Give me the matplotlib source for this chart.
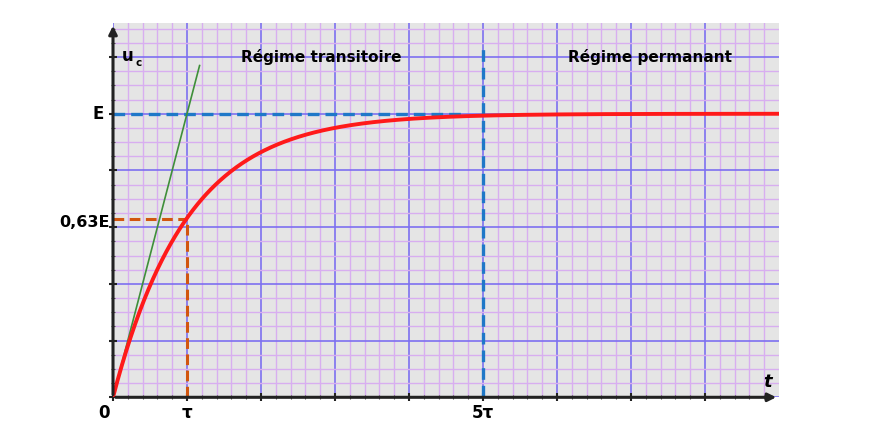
import numpy as np
import matplotlib
matplotlib.use("Agg")
import matplotlib.pyplot as plt
from matplotlib.ticker import FixedLocator

# data (x in units of tau, y in grid units, E = 5)
E = 5.0
tau = 1.0
t_max = 9.0
y_top = 6.6
t = np.linspace(0, t_max, 600)
uc = E * (1 - np.exp(-t / tau))
tangent_t = [0, 1.17]
tangent_u = [0, 1.17 * E / tau]
frac = 0.63
regions = ["Régime transitoire", "Régime permanant"]
region_x = [2.81, 7.25]

W, H = 884, 426
fig = plt.figure(figsize=(W / 100, H / 100), dpi=100)
ax = fig.add_axes([113 / W, (H - 397.3) / H, (779 - 113) / W, (397.3 - 23) / H])
ax.set_xlim(0, t_max)
ax.set_ylim(0, y_top)
ax.set_facecolor("#e5e5e5")
for s in ax.spines.values():
    s.set_visible(False)

ax.xaxis.set_major_locator(FixedLocator(np.arange(0, 9, 1.0)))
ax.xaxis.set_minor_locator(FixedLocator(np.arange(0, 8.9, 0.2)))
ax.yaxis.set_major_locator(FixedLocator(np.arange(0, 7, 1.0)))
ax.yaxis.set_minor_locator(FixedLocator(np.arange(0, 6.55, 0.25)))
ax.grid(which="minor", color="#d8aef0", lw=1.0, zorder=0)
ax.grid(which="major", color="#7d70f0", lw=1.2, zorder=0.5)
ax.set_axisbelow(True)
ax.tick_params(which="both", labelbottom=False, labelleft=False)
ax.tick_params(which="major", direction="inout", length=6, width=1.5, color="#222222")
ax.tick_params(which="minor", direction="inout", length=2.5, width=0.8, color="#555555")

# axes with arrows
ax.annotate("", xy=(1.0, 0), xytext=(0, 0), xycoords="axes fraction",
            arrowprops=dict(arrowstyle="-|>", color="#222222", lw=2.2, mutation_scale=12), zorder=6)
ax.annotate("", xy=(0, 1.0), xytext=(0, 0), xycoords="axes fraction",
            arrowprops=dict(arrowstyle="-|>", color="#222222", lw=2.2, mutation_scale=12), zorder=6)

# dashed guide lines
ax.plot([0, 4.75], [E, E], color="#1f78c8", lw=2.4, ls=(0, (3.5, 1.8)), zorder=3)
ax.plot([5 * tau, 5 * tau], [0, 6.21], color="#1f78c8", lw=2.4, ls=(0, (3.5, 1.8)), zorder=3)
ax.plot([0, tau], [frac * E, frac * E], color="#d2560f", lw=2.2, ls=(0, (3.5, 1.8)), zorder=3)
ax.plot([tau, tau], [0, frac * E], color="#d2560f", lw=2.2, ls=(0, (3.5, 1.8)), zorder=3)

# tangent and curve
ax.plot(tangent_t, tangent_u, color="#3f8f3a", lw=1.2, zorder=4)
ax.plot(t, uc, color="#ff1a1a", lw=2.8, zorder=5, solid_capstyle="butt")

font = dict(fontfamily="DejaVu Sans", fontweight="bold", color="black")
for txt, xr in zip(regions, region_x):
    ax.text(xr, 6.0, txt, ha="center", va="center", fontsize=11, **font)
ax.text(0.12, 6.02, "u", ha="left", va="center", fontsize=12, **font)
ax.text(0.3, 5.9, "c", ha="left", va="center", fontsize=7.5, **font)

ax.text(-0.12, E, "E", ha="right", va="center", fontsize=12, **font, clip_on=False)
ax.text(-0.04, frac * E - 0.06, "0,63E", ha="right", va="center", fontsize=11.5, **font, clip_on=False)
ax.text(-0.12, -0.12, "0", ha="center", va="top", fontsize=12, **font, clip_on=False)
ax.text(tau, -0.12, "τ", ha="center", va="top", fontsize=12, **font, clip_on=False)
ax.text(5 * tau, -0.12, "5τ", ha="center", va="top", fontsize=12, **font, clip_on=False)
ax.text(8.85, 0.27, "t", ha="center", va="center", fontsize=13, fontstyle="italic",
        fontfamily="DejaVu Sans", fontweight="bold", color="black")

fig.savefig("out.png", dpi=100)
